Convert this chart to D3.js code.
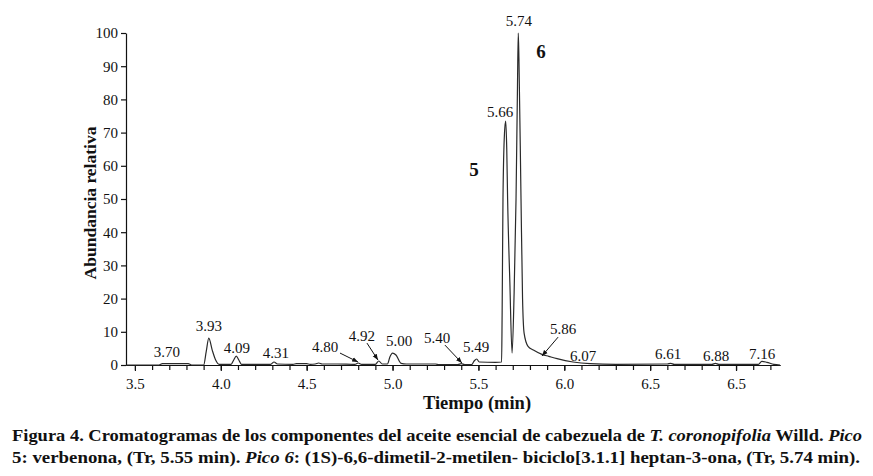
<!DOCTYPE html>
<html>
<head>
<meta charset="utf-8">
<script src="https://cdn.jsdelivr.net/npm/d3@7"></script>
<style>
  body { margin: 0; background: #fff; }
  svg text { font-family: "Liberation Serif", "DejaVu Serif", serif; fill: #111; }
</style>
</head>
<body>
<svg id="chart" width="873" height="476"></svg>
<script>
// Chromatogram trace (time in min, relative abundance)
const traceTime = [3.45, 3.64, 3.66, 3.81, 3.83, 3.90, 3.915, 3.93, 3.95, 3.97, 3.99,
  4.06, 4.075, 4.09, 4.105, 4.12, 4.29, 4.31, 4.33, 4.42, 4.44, 4.50, 4.52, 4.55, 4.57, 4.59,
  4.68, 4.78, 4.80, 4.82, 4.90, 4.92, 4.94, 4.97, 4.985, 5.00, 5.02, 5.05, 5.08, 5.25, 5.27,
  5.38, 5.40, 5.42, 5.46, 5.475, 5.49, 5.505, 5.60, 5.635, 5.638, 5.643, 5.652, 5.659, 5.665,
  5.670, 5.683, 5.696, 5.708, 5.719, 5.727, 5.732, 5.736, 5.748, 5.757, 5.766, 5.789, 5.82,
  5.87, 5.91, 5.958, 6.051, 6.15, 6.30, 6.60, 6.62, 6.64, 6.86, 6.88, 6.90, 7.13, 7.15, 7.18,
  7.22, 7.256];
const traceAbund = [0, 0, 0.4, 0.4, 0, 0, 4, 8.1, 4.5, 1.5, 0.2,
  0.2, 1.5, 2.7, 1.5, 0.2, 0.2, 0.9, 0.3, 0.2, 0.4, 0.4, 0.2, 0.3, 0.6, 0.3,
  0.3, 0.2, 0.6, 0.2, 0.2, 1.2, 0.3, 0.3, 2.5, 3.6, 3.0, 0.5, 0.3, 0.3, 0.1,
  0.1, 0.4, 0.1, 0.1, 1.2, 1.8, 0.9, 0.8, 0.9, 15, 50, 70, 73.5, 65,
  50, 25, 3.6, 22, 50, 82, 100, 92, 50, 20, 9.6, 5.6, 4.5,
  3.2, 2.6, 1.9, 0.9, 0.4, 0.2, 0.3, 0.5, 0.2, 0.2, 0.5, 0.2, 0.2, 1.1, 0.8,
  0.2, 0];

// Peak labels (label anchor in data units)
const labelText  = ["3.70", "3.93", "4.09", "4.31", "4.80", "4.92", "5.00", "5.40", "5.49",
  "5.66", "5.74", "5.86", "6.07", "6.61", "6.88", "7.16"];
const labelTime  = [3.686, 3.931, 4.094, 4.321, 4.607, 4.822, 5.038, 5.259, 5.486,
  5.626, 5.736, 5.993, 6.109, 6.604, 6.884, 7.152];
const labelValue = [2.4, 10.2, 3.6, 2.1, 3.9, 7.2, 5.7, 6.6, 3.9,
  74.7, 102.1, 9.3, 1.2, 1.8, 1.2, 1.8];

// Arrows: [fromTime, fromValue, toTime, toValue]
const arrows = [
  [4.694, 3.6, 4.799, 0.9],
  [4.851, 6.6, 4.915, 1.5],
  [5.305, 6.0, 5.404, 0.6],
  [5.964, 8.4, 5.870, 2.7]
];

// Peak numbers
const peakNumText  = ["5", "6"];
const peakNumTime  = [5.474, 5.865];
const peakNumValue = [56.9, 92.5];

// Axis ticks
const xMajorTicks = [3.5, 4.0, 4.5, 5.0, 5.5, 6.0, 6.5, 7.0];
const xTickLabels = ["3.5", "4.0", "4.5", "5.0", "5.5", "6.0", "6.5", "6.5"];
const yTicks = [0, 10, 20, 30, 40, 50, 60, 70, 80, 90, 100];

let svg = d3.select("#chart");

let x = d3.scaleLinear().domain([3.448, 7.256]).range([126, 780]);
let y = d3.scaleLinear().domain([0, 100]).range([365, 33]);

// Arrow head
svg.append("defs").append("marker")
  .attr("id", "head")
  .attr("viewBox", "0 0 10 10")
  .attr("refX", 10).attr("refY", 5)
  .attr("markerWidth", 6).attr("markerHeight", 6)
  .attr("orient", "auto")
  .append("path")
    .attr("d", "M0,1 L10,5 L0,9 Z")
    .attr("fill", "#111");

// X axis - minor ticks every 0.1
let minor = d3.range(35, 73).map(d => d / 10);
svg.append("g")
  .attr("class", "axis axis_x_minor")
  .attr("transform", "translate(0," + y(0) + ")")
  .call(d3.axisBottom(x).tickValues(minor).tickSize(5).tickSizeOuter(0).tickFormat(""));

svg.append("g")
  .attr("class", "axis axis_x")
  .attr("transform", "translate(0," + y(0) + ")")
  .call(d3.axisBottom(x).tickValues(xMajorTicks).tickSize(6).tickSizeOuter(0)
    .tickFormat((d, i) => xTickLabels[i]));

// Y axis
svg.append("g")
  .attr("class", "axis axis_y")
  .attr("transform", "translate(" + x.range()[0] + ",0)")
  .call(d3.axisLeft(y).tickValues(yTicks).tickSize(5).tickSizeOuter(0));

svg.selectAll(".axis path, .axis line").attr("stroke", "#111").attr("stroke-width", 1.2);
svg.selectAll(".axis text")
  .style("font-family", "'Liberation Serif', serif")
  .style("font-size", "15px")
  .attr("fill", "#111");
svg.selectAll(".axis_x text").attr("dy", "1.0em");
svg.selectAll(".axis_y text").attr("x", -8);

// Trace
let trace = traceTime.map((t, i) => ({ t: t, v: traceAbund[i] }));
let line = d3.line()
  .x(d => x(d.t))
  .y(d => y(d.v))
  .curve(d3.curveMonotoneX);

svg.append("path")
  .datum(trace)
  .attr("class", "line")
  .attr("d", line)
  .attr("fill", "none")
  .attr("stroke", "#2a2a2a")
  .attr("stroke-width", 1.2)
  .attr("stroke-linejoin", "round");

// Peak labels
svg.append("g")
  .selectAll("text")
  .data(labelText)
  .enter()
  .append("text")
    .attr("x", (d, i) => x(labelTime[i]))
    .attr("y", (d, i) => y(labelValue[i]))
    .attr("text-anchor", "middle")
    .style("font-size", "15px")
    .text(d => d);

svg.append("g")
  .selectAll("line")
  .data(arrows)
  .enter()
  .append("line")
    .attr("x1", d => x(d[0]))
    .attr("y1", d => y(d[1]))
    .attr("x2", d => x(d[2]))
    .attr("y2", d => y(d[3]))
    .attr("stroke", "#111")
    .attr("stroke-width", 1)
    .attr("marker-end", "url(#head)");

svg.append("g")
  .selectAll("text")
  .data(peakNumText)
  .enter()
  .append("text")
    .attr("x", (d, i) => x(peakNumTime[i]))
    .attr("y", (d, i) => y(peakNumValue[i]))
    .attr("text-anchor", "middle")
    .style("font-size", "19px")
    .style("font-weight", "bold")
    .text(d => d);

// Axis titles
svg.append("text")
  .attr("transform", "rotate(-90)")
  .attr("x", -203)
  .attr("y", 96)
  .attr("text-anchor", "middle")
  .style("font-size", "17.5px")
  .style("font-weight", "bold")
  .text("Abundancia relativa");

svg.append("text")
  .attr("x", 477)
  .attr("y", 409)
  .attr("text-anchor", "middle")
  .style("font-size", "18.5px")
  .style("font-weight", "bold")
  .text("Tiempo (min)");

// Caption
let caption = [
  [["Figura 4. Cromatogramas de los componentes del aceite esencial de cabezuela de ", false],
   ["T. coronopifolia", true], [" Willd. ", false], ["Pico", true]],
  [["5: verbenona, (Tr, 5.55 min). ", false], ["Pico 6", true],
   [": (1S)-6,6-dimetil-2-metilen- biciclo[3.1.1] heptan-3-ona, (Tr, 5.74 min).", false]]
];
let captionWidth = [850, 848];

caption.forEach((parts, li) => {
  let t = svg.append("text")
    .attr("x", 12)
    .attr("y", 441 + li * 22)
    .attr("textLength", captionWidth[li])
    .attr("lengthAdjust", "spacingAndGlyphs")
    .style("font-size", "17.5px")
    .style("font-weight", "bold");
  parts.forEach(p => {
    t.append("tspan")
      .style("font-style", p[1] ? "italic" : "normal")
      .text(p[0]);
  });
});
</script>
</body>
</html>
